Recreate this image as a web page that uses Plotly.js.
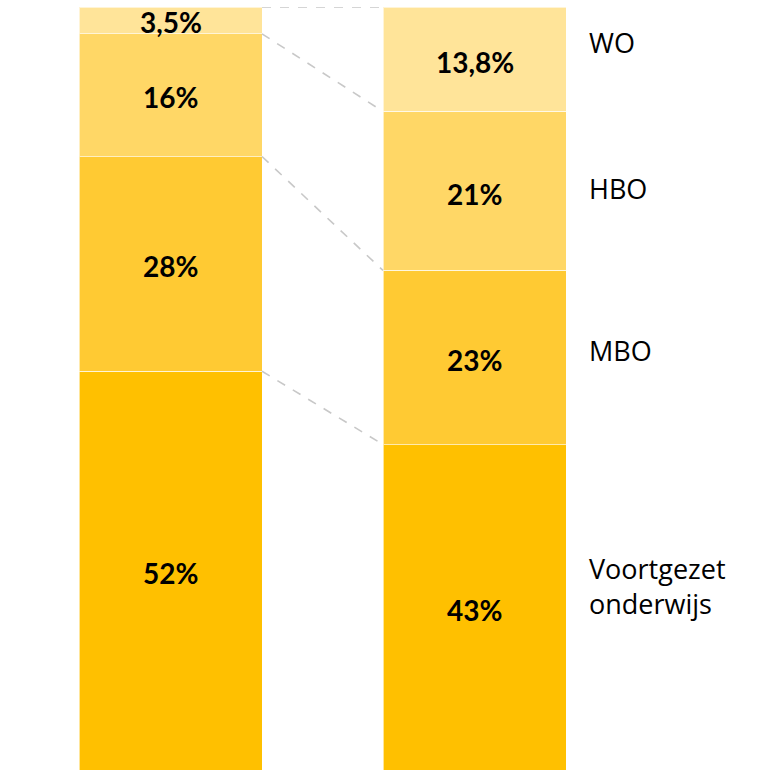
<!DOCTYPE html>
<html>
<head>
<meta charset="utf-8">
<script src="https://cdn.plot.ly/plotly-3.0.1.min.js"></script>
<style>html,body{margin:0;padding:0;background:#fff;}#chart{width:764px;height:770px;}</style>
</head>
<body>
<div id="chart"></div>
<script>
const categories = ['Voortgezet onderwijs', 'MBO', 'HBO', 'WO'];
const sideLabels = ['Voortgezet<br>onderwijs', 'MBO', 'HBO', 'WO'];
const leftValues = [52, 28, 16, 3.5];
const rightValues = [43, 23, 21, 13.8];
const leftLabels = ['52%', '28%', '16%', '3,5%'];
const rightLabels = ['43%', '23%', '21%', '13,8%'];
const colors = ['#FFC000', '#FFCA33', '#FFD766', '#FFE499'];

const barX = [0, 1];
const barWidth = 0.602;

function normCum(vals) {
  const total = vals.reduce((a, b) => a + b, 0);
  let acc = 0;
  return vals.map(v => { const lo = acc; acc += v / total * 100; return [lo, acc]; });
}
const leftCum = normCum(leftValues);
const rightCum = normCum(rightValues);

const traces = categories.map((c, i) => ({
  type: 'bar',
  name: c,
  x: barX,
  y: [leftValues[i], rightValues[i]],
  width: barWidth,
  marker: { color: colors[i], line: { color: 'rgba(255,255,255,0.6)', width: 1 } },
  hoverinfo: 'skip'
}));

const annotations = [];
categories.forEach((c, i) => {
  annotations.push({
    x: barX[0], y: (leftCum[i][0] + leftCum[i][1]) / 2, xref: 'x', yref: 'y',
    text: '<b>' + leftLabels[i] + '</b>', showarrow: false,
    font: { family: 'Lato, sans-serif', size: 28, color: '#000' }, yshift: -2
  });
  annotations.push({
    x: barX[1], y: (rightCum[i][0] + rightCum[i][1]) / 2, xref: 'x', yref: 'y',
    text: '<b>' + rightLabels[i] + '</b>', showarrow: false,
    font: { family: 'Lato, sans-serif', size: 28, color: '#000' }, yshift: -3
  });
});
const sideShift = [21, 7, 2, 17];
categories.forEach((c, i) => {
  annotations.push({
    x: 1.043, y: (rightCum[i][0] + rightCum[i][1]) / 2, xref: 'paper', yref: 'y',
    xanchor: 'left', align: 'left',
    text: sideLabels[i], showarrow: false, yshift: sideShift[i],
    font: { family: '"Open Sans", sans-serif', size: 27, color: '#000' }
  });
});

const shapes = categories.map((c, i) => ({
  type: 'line', xref: 'x', yref: 'y',
  x0: barX[0] + barWidth / 2, y0: leftCum[i][1],
  x1: barX[1] - barWidth / 2, y1: rightCum[i][1],
  line: { color: '#C8C8C8', width: 1.6, dash: 'dash' }
}));

const layout = {
  width: 764, height: 770,
  margin: { l: 79, r: 198, t: 7, b: 0, pad: 0 },
  barmode: 'stack',
  barnorm: 'percent',
  showlegend: false,
  hovermode: false,
  paper_bgcolor: '#fff', plot_bgcolor: '#fff',
  xaxis: { range: [-barWidth / 2, 1 + barWidth / 2], visible: false, fixedrange: true },
  yaxis: { range: [0, 100], visible: false, fixedrange: true },
  annotations: annotations,
  shapes: shapes
};

Plotly.newPlot('chart', traces, layout, { displayModeBar: false, staticPlot: true });
</script>
</body>
</html>
